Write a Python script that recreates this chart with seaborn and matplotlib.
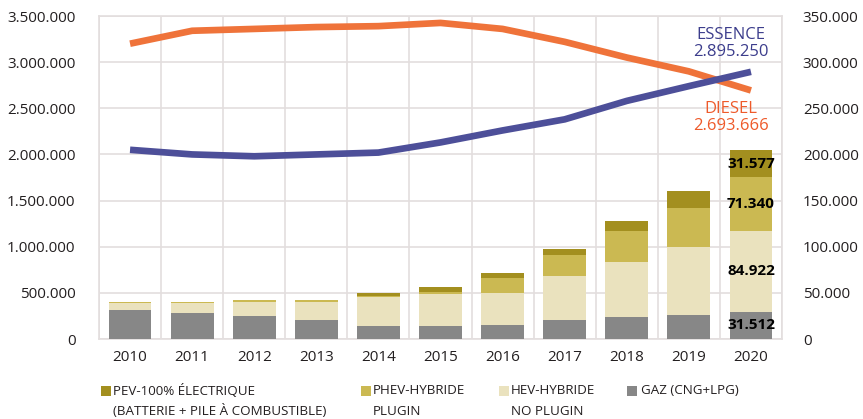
import numpy as np
import pandas as pd
import matplotlib
matplotlib.use("Agg")
import matplotlib.pyplot as plt
from matplotlib.patches import Rectangle
from matplotlib.ticker import FuncFormatter
import seaborn as sns

# données
annees = ["2010", "2011", "2012", "2013", "2014", "2015", "2016", "2017", "2018", "2019", "2020"]
essence = [2050000, 2000000, 1980000, 2000000, 2020000, 2130000, 2260000, 2380000, 2580000, 2740000, 2895250]
diesel = [3200000, 3340000, 3360000, 3380000, 3390000, 3425000, 3360000, 3220000, 3050000, 2900000, 2693666]
gaz = [31300, 28000, 25000, 20600, 14000, 14000, 15200, 20600, 23900, 26000, 29700]
hev = [7600, 10800, 15200, 19500, 31300, 34600, 34600, 47500, 59400, 73400, 87500]
phev = [800, 800, 2200, 2200, 1100, 2200, 16200, 22700, 33500, 42100, 58300]
pev = [0, 0, 0, 0, 3200, 5400, 5400, 6500, 10800, 18400, 28800]
etiquettes_2020 = ["31.512", "84.922", "71.340", "31.577"]
legendes = [
    ("PEV-100% ÉLECTRIQUE", "(BATTERIE + PILE À COMBUSTIBLE)"),
    ("PHEV-HYBRIDE", "PLUGIN"),
    ("HEV-HYBRIDE", "NO PLUGIN"),
    ("GAZ (CNG+LPG)", ""),
]

couleurs = {"gaz": "#878787", "hev": "#EAE2BE", "phev": "#CBB952", "pev": "#A38F1F"}
bleu = "#4D4F99"
orange = "#EF733A"
grille = "#E3DEDE"
texte = "#231F20"

W, H = 863, 419


def fx(px):
    return px / W


def fy(py):
    return 1 - py / H


def milliers(v, pos=None):
    return f"{v:,.0f}".replace(",", ".")


sns.set_style("white")
plt.rcParams["font.family"] = ["Open Sans", "DejaVu Sans"]

fig = plt.figure(figsize=(W / 100, H / 100), dpi=100)
ax = fig.add_axes([fx(99), fy(339), fx(782) - fx(99), fy(16) - fy(339)])
ax2 = ax.twinx()

pos = np.arange(len(annees))
df = pd.DataFrame({"pos": pos, "gaz": gaz, "hev": hev, "phev": phev, "pev": pev})
cols = ["gaz", "hev", "phev", "pev"]
cum = df[cols].cumsum(axis=1)

# barres empilées : on dessine les cumuls du plus haut au plus bas
for col in reversed(cols):
    sns.barplot(x=df["pos"], y=cum[col], native_scale=True, orient="x",
                color=couleurs[col], saturation=1, width=0.69, linewidth=0,
                errorbar=None, ax=ax2)

# lignes essence / diesel (axe de gauche)
sns.lineplot(x=pos, y=diesel, color=orange, linewidth=4.8, ax=ax)
sns.lineplot(x=pos, y=essence, color=bleu, linewidth=4.8, ax=ax)
for l in ax.lines:
    l.set_solid_capstyle("butt")
    l.set_solid_joinstyle("round")

# étiquettes 2020
dernier = df.iloc[-1]
for col, lab in zip(cols, etiquettes_2020):
    y = cum[col].iloc[-1] - dernier[col] / 2
    ax2.text(pos[-1], y, lab, ha="center", va="center", fontsize=11,
             fontweight="bold", color="black")

ax.text(9.68, 3205000, f"ESSENCE\n{milliers(essence[-1])}", ha="center", va="center",
        fontsize=12, color="#3C3D8C", linespacing=1.1)
ax.text(9.68, 2398000, f"DIESEL\n{milliers(diesel[-1])}", ha="center", va="center",
        fontsize=12, color="#EE5A2B", linespacing=1.1)

# axes
ax.set_xlim(-0.5, 10.5)
ax.set_ylim(0, 3500000)
ax2.set_ylim(0, 350000)
ax.set_yticks(np.arange(0, 3500001, 500000))
ax2.set_yticks(np.arange(0, 350001, 50000))
ax.yaxis.set_major_formatter(FuncFormatter(milliers))
ax2.yaxis.set_major_formatter(FuncFormatter(milliers))
ax.set_xticks(pos)
ax.set_xticklabels(annees)
ax.set_xticks(np.arange(-0.5, 11, 1), minor=True)
ax.grid(which="major", axis="y", color=grille, linewidth=1.2)
ax.grid(which="minor", axis="x", color=grille, linewidth=1.2)
ax.grid(which="major", axis="x", visible=False)
ax.tick_params(axis="both", which="both", length=0)
ax.tick_params(axis="y", pad=17, labelsize=11, labelcolor=texte)
ax.tick_params(axis="x", pad=8, labelsize=11, labelcolor=texte)
ax2.tick_params(axis="y", length=0, pad=15, labelsize=11, labelcolor=texte)
for a in (ax, ax2):
    a.set_xlabel("")
    a.set_ylabel("")
for s in ax.spines.values():
    s.set_color(grille)
    s.set_linewidth(1.2)
for s in ax2.spines.values():
    s.set_visible(False)

# légende manuelle
carres = [100.7, 360.7, 498.5, 626.5]
textes_x = [112.7, 373, 510.5, 640.5]
for (l1, l2), col, xc, xt in zip(legendes, cols[::-1], carres, textes_x):
    fig.add_artist(Rectangle((fx(xc), fy(395.5)), fx(10), 9.5 / H,
                             transform=fig.transFigure, color=couleurs[col], lw=0))
    fig.text(fx(xt), fy(391), l1, ha="left", va="center", fontsize=9.6, color=texte)
    if l2:
        fig.text(fx(xt), fy(411), l2, ha="left", va="center", fontsize=9.6, color=texte)

fig.savefig("out.png", dpi=100, facecolor="white")
